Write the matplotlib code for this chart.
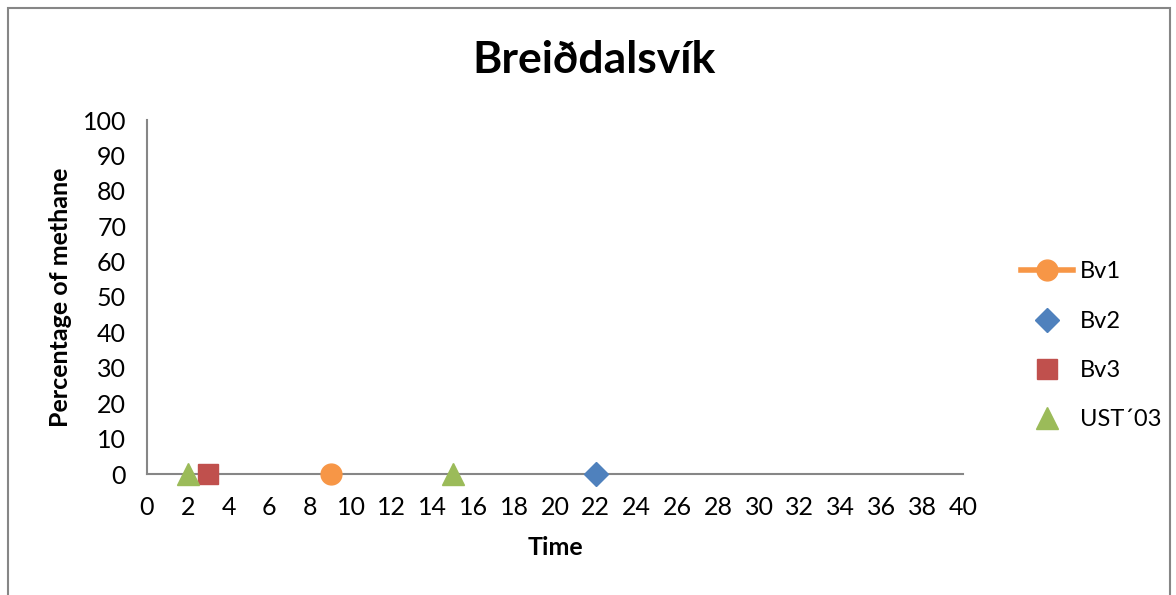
import matplotlib
matplotlib.use("Agg")
import matplotlib.pyplot as plt
from matplotlib.patches import Rectangle

# series data (time, percentage of methane)
bv1_time = [9]
bv1_methane = [0]
bv2_time = [22]
bv2_methane = [0]
bv3_time = [3]
bv3_methane = [0]
ust_time = [2, 15]
ust_methane = [0, 0]

x_ticks = list(range(0, 41, 2))
y_ticks = list(range(0, 101, 10))

plt.rcParams['font.family'] = ['Lato', 'DejaVu Sans']

fig = plt.figure(figsize=(11.76, 5.95), dpi=100)
ax = fig.add_axes([147 / 1176, 1 - 474 / 595, (963 - 147) / 1176, (474 - 120) / 595])

# outer chart border like the spreadsheet chart area
fig.patches.append(Rectangle((8 / 1176, -0.05), (1170 - 8) / 1176, 1.05 - 8 / 595,
                             transform=fig.transFigure, fill=False,
                             edgecolor='#868686', linewidth=1.5))

ax.plot(bv1_time, bv1_methane, '-o', color='#F79646', markersize=15,
        linewidth=4, label='Bv1', clip_on=False, zorder=3)
ax.plot(bv2_time, bv2_methane, 'D', color='#4F81BD', markersize=12,
        linestyle='none', label='Bv2', clip_on=False, zorder=3)
ax.plot(bv3_time, bv3_methane, 's', color='#C0504D', markersize=14,
        linestyle='none', label='Bv3', clip_on=False, zorder=3)
ax.plot(ust_time, ust_methane, '^', color='#9BBB59', markersize=16,
        linestyle='none', label='UST\u00b403', clip_on=False, zorder=3)

ax.set_xlim(0, 40)
ax.set_ylim(0, 100)
ax.set_xticks(x_ticks)
ax.set_yticks(y_ticks)
ax.tick_params(length=0, labelsize=18)
ax.tick_params(axis='x', pad=16)
ax.tick_params(axis='y', pad=15)

for side in ['top', 'right']:
    ax.spines[side].set_visible(False)
for side in ['left', 'bottom']:
    ax.spines[side].set_color('#868686')
    ax.spines[side].set_linewidth(1.5)

ax.set_xlabel('Time', fontsize=18, fontweight='bold', labelpad=12)
ax.set_ylabel('Percentage of methane', fontsize=18, fontweight='bold', labelpad=8)
fig.text(594 / 1176, 1 - 60 / 595, 'Brei\u00f0dalsv\u00edk', fontsize=32,
         fontweight='bold', ha='center', va='center')

ax.legend(loc='center left', bbox_to_anchor=(1000 / 1176, 1 - 346 / 595),
          bbox_transform=fig.transFigure, frameon=False, fontsize=17,
          labelspacing=1.2, handlelength=2.2, handletextpad=0.3)

fig.savefig('out.png', dpi=100)
